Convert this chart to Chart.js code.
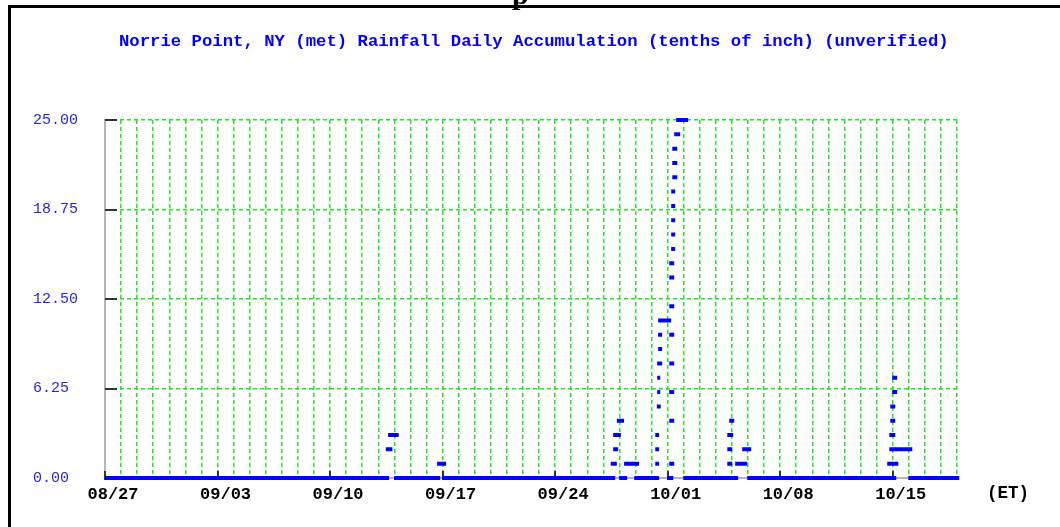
<!DOCTYPE html>
<html>
<head>
<meta charset="utf-8">
<script src="https://cdn.jsdelivr.net/npm/chart.js@4.4.0/dist/chart.umd.min.js"></script>
<style>
  html, body { margin: 0; padding: 0; background: #ffffff; }
  #wrap { position: relative; width: 1060px; height: 527px; overflow: hidden; background: #ffffff; }
  canvas { position: absolute; left: 0; top: 0; }
  .ov { position: absolute; white-space: pre; font-family: 'Liberation Mono', 'DejaVu Sans Mono', monospace; }
  #title { left: 119px; top: 33px; font-size: 17.3px; line-height: 17px; font-weight: bold; color: #0000ff; }
  #et { left: 987px; top: 485px; font-size: 17.5px; line-height: 17px; font-weight: bold; color: #000; }
  #frameTop { position: absolute; left: 8px; top: 5px; width: 1052px; height: 3px; background: #000; }
  #frameLeft { position: absolute; left: 8px; top: 5px; width: 3px; height: 522px; background: #000; }
  #frag { position: absolute; left: 512px; top: -21px; font-family: 'Liberation Serif', serif; font-weight: bold; font-size: 30px; line-height: 30px; color: #000; }
</style>
</head>
<body>
<div id="wrap">
  <canvas id="c" width="1060" height="527"></canvas>
  <div id="frameTop"></div>
  <div id="frameLeft"></div>
  <div id="frag">p</div>
  <div class="ov" id="title">Norrie Point, NY (met) Rainfall Daily Accumulation (tenths of inch) (unverified)</div>
  <div class="ov" id="et">(ET)</div>
</div>
<script>
// x values: days since 08/27 00:00
const xTickLabels = ['08/27', '09/03', '09/10', '09/17', '09/24', '10/01', '10/08', '10/15'];
const yTickValues = [0, 6.25, 12.5, 18.75, 25];

// Plotted runs of the daily accumulation (start day, end day, value in tenths of inch)
const runStart = [
  0, 17.98, 20.97, 31.98, 32.92, 34.97, 35.97, 39.95, 49.97,
  17.47, 17.61, 20.66,
  31.46, 31.61, 31.61, 31.84, 32.29,
  34.23, 34.23, 34.23, 34.33, 34.35, 34.35, 34.35, 34.41, 34.41, 34.41,
  35.10, 35.10, 35.10, 35.10, 35.10, 35.10, 35.10, 35.10,
  35.22, 35.22, 35.22, 35.22, 35.22, 35.29, 35.29, 35.29, 35.41, 35.53,
  38.71, 38.71, 38.71, 38.83, 39.20, 39.64,
  48.66, 48.79, 48.79, 48.85, 48.85, 48.97, 48.97
];
const runEnd = [
  17.67, 20.85, 31.74, 32.48, 34.47, 35.35, 39.39, 49.22, 53.14,
  17.88, 18.27, 21.22,
  31.84, 31.92, 32.09, 32.29, 33.22,
  34.47, 34.47, 34.47, 34.57, 34.54, 34.54, 34.66, 34.66, 34.66, 35.22,
  35.41, 35.41, 35.41, 35.41, 35.41, 35.41, 35.41, 35.41,
  35.47, 35.47, 35.47, 35.47, 35.47, 35.60, 35.60, 35.60, 35.78, 36.28,
  39.02, 39.02, 39.08, 39.14, 39.95, 40.20,
  49.35, 50.22, 49.16, 49.16, 49.16, 49.28, 49.28
];
const runValue = [
  0, 0, 0, 0, 0, 0, 0, 0, 0,
  2, 3, 1,
  1, 2, 3, 4, 1,
  1, 2, 3, 5, 6, 7, 8, 9, 10, 11,
  1, 4, 6, 8, 10, 12, 14, 15,
  16, 17, 18, 19, 20, 21, 22, 23, 24, 25,
  1, 2, 3, 4, 1, 2,
  1, 2, 3, 4, 5, 6, 7
];

const points = [];
for (let i = 0; i < runValue.length; i++) {
  points.push({x: runStart[i], y: runValue[i]});
  points.push({x: runEnd[i], y: runValue[i]});
  points.push({x: runEnd[i], y: null});
}

const CH = {left: 105, right: 957, top: 120, bottom: 478};
const GREEN = '#1ee81e';

const tickMarks = {
  id: 'tickMarks',
  beforeDatasetsDraw(chart) {
    const {ctx, chartArea: a, scales: {x, y}} = chart;
    ctx.save();
    ctx.strokeStyle = '#333333';
    ctx.lineWidth = 2;
    xTickLabels.forEach((_, i) => {
      const px = Math.round(x.getPixelForValue(i * 7));
      ctx.beginPath(); ctx.moveTo(px, a.bottom + 2); ctx.lineTo(px, a.bottom - 7); ctx.stroke();
    });
    yTickValues.forEach(v => {
      const py = Math.round(y.getPixelForValue(v));
      ctx.beginPath(); ctx.moveTo(a.left, py); ctx.lineTo(a.left + 12, py); ctx.stroke();
    });
    ctx.restore();
  }
};

new Chart(document.getElementById('c'), {
  type: 'line',
  data: {
    datasets: [{
      data: points,
      borderColor: '#0000ff',
      backgroundColor: '#0000ff',
      borderWidth: 4,
      borderCapStyle: 'butt',
      pointRadius: 0,
      pointHoverRadius: 0,
      tension: 0,
      spanGaps: false,
      fill: false,
      clip: 6
    }]
  },
  options: {
    responsive: false,
    animation: false,
    devicePixelRatio: 1,
    events: [],
    layout: { padding: { left: 33, right: 1060 - CH.right, top: CH.top, bottom: 0 } },
    plugins: { legend: { display: false }, title: { display: false }, tooltip: { enabled: false } },
    scales: {
      x: {
        type: 'linear',
        min: 0,
        max: 53,
        afterFit(s) { s.height = 527 - CH.bottom; },
        afterBuildTicks(s) {
          const t = [];
          for (let d = 0; d <= 53; d++) t.push({value: d});
          s.ticks = t;
        },
        ticks: {
          autoSkip: false,
          maxRotation: 0,
          minRotation: 0,
          padding: 7,
          labelOffset: 8,
          color: '#000000',
          font: { family: "'Liberation Mono', 'DejaVu Sans Mono', monospace", size: 17, weight: 'bold' },
          callback(v) { return (v % 7 === 0 && v / 7 < xTickLabels.length) ? xTickLabels[v / 7] : ''; }
        },
        grid: { color: GREEN, lineWidth: 1.5, drawTicks: false },
        border: { display: true, color: '#b4b4b4', width: 2, dash: [4, 3] }
      },
      y: {
        min: 0,
        max: 25,
        afterFit(s) { s.width = CH.left - 33; },
        afterBuildTicks(s) { s.ticks = yTickValues.map(v => ({value: v})); },
        ticks: {
          crossAlign: 'far',
          color: '#1f1fe6',
          font: { family: "'Liberation Mono', 'DejaVu Sans Mono', monospace", size: 15 },
          callback(v) { return Number(v).toFixed(2); }
        },
        grid: { color: GREEN, lineWidth: 1.5, drawTicks: false },
        border: { display: true, color: '#b4b4b4', width: 2, dash: [4, 3] }
      }
    }
  },
  plugins: [tickMarks]
});
</script>
</body>
</html>
